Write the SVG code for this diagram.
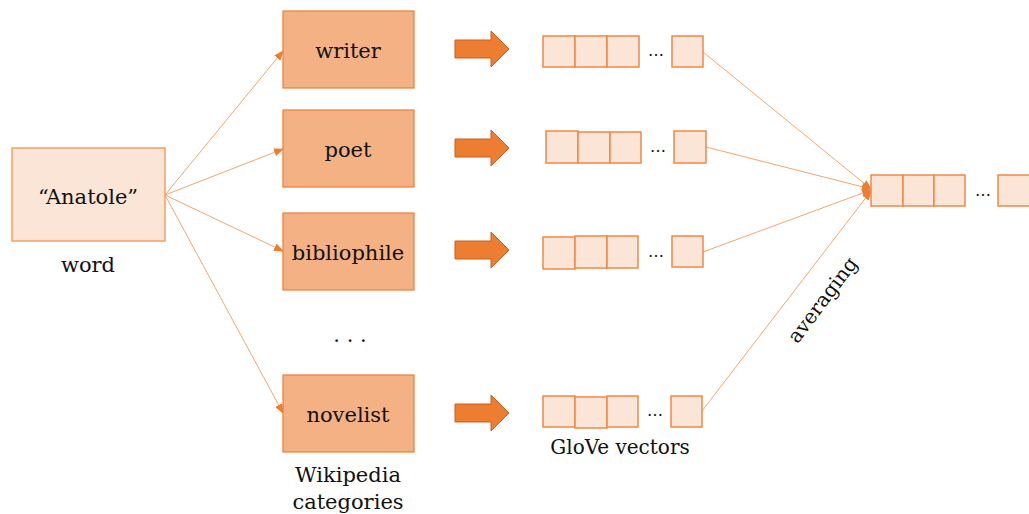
<svg xmlns="http://www.w3.org/2000/svg" width="1029" height="514" viewBox="0 0 1029 514">
<defs>
<style>
.t{font-family:"DejaVu Serif","Liberation Serif",serif;fill:#111;text-anchor:middle}
.word{fill:#FBE5D6;stroke:#F4A160;stroke-width:1.5}
.cat{fill:#F4B183;stroke:#ED7D31;stroke-width:1.2}
.cell{fill:#FBE5D6;stroke:#F0884A;stroke-width:1.5}
.ln{stroke:#F4A46A;stroke-width:1;fill:none}
.blk{fill:#ED7D31;stroke:#C9601C;stroke-width:1}
</style>
<marker id="ah" markerWidth="10" markerHeight="8" refX="9" refY="4" orient="auto" markerUnits="userSpaceOnUse">
<path d="M0,0 L10,4 L0,8 Z" fill="#ED7D31"/>
</marker>
</defs>
<rect width="1029" height="514" fill="#fff"/>

<g id="connectors">
<line class="ln" x1="165" y1="195" x2="283" y2="51" marker-end="url(#ah)"/>
<line class="ln" x1="165" y1="195" x2="283" y2="149" marker-end="url(#ah)"/>
<line class="ln" x1="165" y1="195" x2="283" y2="251" marker-end="url(#ah)"/>
<line class="ln" x1="165" y1="195" x2="283" y2="413" marker-end="url(#ah)"/>
<line class="ln" x1="703" y1="52" x2="871" y2="189" marker-end="url(#ah)"/>
<line class="ln" x1="706" y1="147" x2="871" y2="189" marker-end="url(#ah)"/>
<line class="ln" x1="703" y1="252" x2="871" y2="190" marker-end="url(#ah)"/>
<line class="ln" x1="702" y1="411" x2="871" y2="191" marker-end="url(#ah)"/>
<path class="blk" d="M455,40 H491 V31 L509,49 L491,67 V58 H455 Z"/>
<path class="blk" d="M455,139 H491 V130 L509,148 L491,166 V157 H455 Z"/>
<path class="blk" d="M455,241 H491 V232 L509,250 L491,268 V259 H455 Z"/>
<path class="blk" d="M455,404 H491 V395 L509,413 L491,431 V422 H455 Z"/>
</g>

<g id="node-word">
<rect class="word" x="12" y="148" width="153" height="93"/>
<text class="t" x="88" y="204" font-size="21">“Anatole”</text>
<text class="t" x="88" y="272" font-size="21">word</text>
</g>

<g id="node-writer">
<rect class="cat" x="283" y="11" width="131" height="77"/>
<text class="t" x="348" y="58" font-size="21">writer</text>
</g>
<g id="node-poet">
<rect class="cat" x="283" y="110" width="131" height="77"/>
<text class="t" x="348" y="157" font-size="21">poet</text>
</g>
<g id="node-bibliophile">
<rect class="cat" x="283" y="213" width="131" height="77"/>
<text class="t" x="348" y="260" font-size="21">bibliophile</text>
</g>
<g id="node-novelist">
<rect class="cat" x="283" y="375" width="131" height="77"/>
<text class="t" x="348" y="422" font-size="21">novelist</text>
</g>
<g id="labels">
<text class="t" x="350" y="342" font-size="21">. . .</text>
<text class="t" x="348" y="482" font-size="21">Wikipedia</text>
<text class="t" x="348" y="509" font-size="21">categories</text>
<text class="t" x="620" y="454" font-size="20">GloVe vectors</text>
<text class="t" x="0" y="0" font-size="20" transform="translate(828,304) rotate(-53)">averaging</text>
</g>

<g id="vec-writer">
<rect class="cell" x="543" y="36" width="32" height="31"/>
<rect class="cell" x="575" y="36" width="32" height="31"/>
<rect class="cell" x="607" y="36" width="32" height="31"/>
<text class="t" x="656" y="56" font-size="16">…</text>
<rect class="cell" x="672" y="36" width="31" height="31"/>
</g>
<g id="vec-poet">
<rect class="cell" x="546" y="131" width="32" height="32"/>
<rect class="cell" x="578" y="132" width="32" height="31"/>
<rect class="cell" x="610" y="132" width="31" height="31"/>
<text class="t" x="658" y="152" font-size="16">…</text>
<rect class="cell" x="674" y="131" width="32" height="32"/>
</g>
<g id="vec-bibliophile">
<rect class="cell" x="543" y="237" width="32" height="32"/>
<rect class="cell" x="575" y="236" width="32" height="32"/>
<rect class="cell" x="607" y="236" width="31" height="32"/>
<text class="t" x="656" y="257" font-size="16">…</text>
<rect class="cell" x="672" y="236" width="31" height="31"/>
</g>
<g id="vec-novelist">
<rect class="cell" x="543" y="396" width="32" height="31"/>
<rect class="cell" x="575" y="397" width="32" height="31"/>
<rect class="cell" x="607" y="396" width="31" height="31"/>
<text class="t" x="655" y="416" font-size="16">…</text>
<rect class="cell" x="671" y="396" width="31" height="31"/>
</g>
<g id="vec-average">
<rect class="cell" x="871" y="175" width="32" height="31"/>
<rect class="cell" x="903" y="175" width="31" height="31"/>
<rect class="cell" x="934" y="175" width="31" height="31"/>
<text class="t" x="983" y="196" font-size="16">…</text>
<rect class="cell" x="998" y="175" width="34" height="31"/>
</g>
</svg>
